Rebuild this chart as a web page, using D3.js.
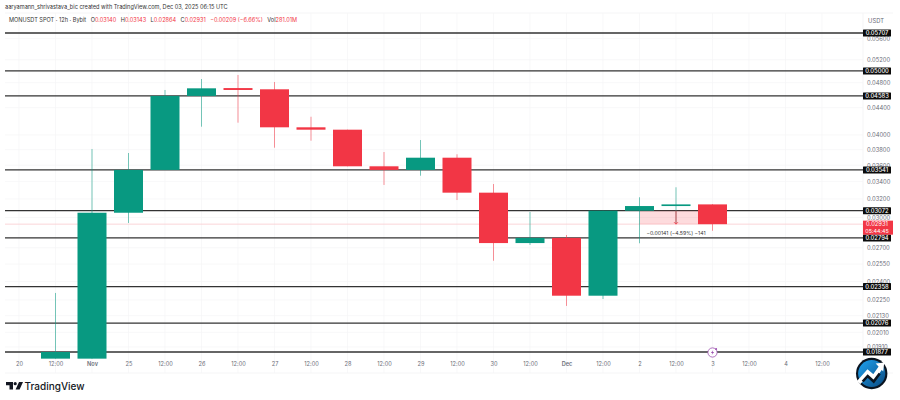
<!DOCTYPE html>
<html><head><meta charset="utf-8">
<script src="https://cdn.jsdelivr.net/npm/d3@7/dist/d3.min.js"></script>
<style>
html,body{margin:0;padding:0;background:#fff;overflow:hidden}
svg{display:block}
text{font-family:Inter,"Noto Sans",sans-serif}
</style></head><body>
<svg id="c" width="900" height="400"></svg>
<script>
const timeLabels=["20","12:00","Nov","25","12:00","26","12:00","27","12:00","28","12:00","29","12:00","30","12:00","Dec","12:00","2","12:00","3","12:00","4","12:00"];
const opens =[.01834,.01834,.03050,.03541,.04583,.04710,.04690,.04108,.04074,.03586,.03541,.03695,.03271,.02744,.02794,.02284,.03072,.03122,.03140];
const highs =[.02306,.03809,.03756,.04679,.04861,.04930,.04811,.04262,.04074,.03769,.03930,.03739,.03371,.03058,.02822,.03072,.03219,.03333,.03143];
const lows  =[.01834,.01834,.02943,.03541,.04117,.04175,.03826,.03921,.03586,.03360,.03470,.03188,.02580,.02726,.02204,.02258,.02742,.02940,.02864];
const closes=[.01877,.03050,.03541,.04583,.04706,.04679,.04108,.04074,.03586,.03541,.03695,.03271,.02744,.02794,.02284,.03072,.03122,.03140,.02931];
const priceTicks=[.056,.052,.048,.044,.04,.038,.036,.034,.032,.03,.027,.0255,.024,.0225,.0213,.0201,.0191];
const levels=[.05707,.05,.04583,.03541,.03072,.02794,.02358,.02076,.01877];
const lastPrice=.02931, measureFrom=.03072, measureAt=18, measureTo=19;
const legendParts=["O0.03140","H0.03143","L0.02864","C0.02931","−0.00209 (−6.66%)"];
const UP="#089981",DOWN="#f23645";

const svg=d3.select("#c");
const x=d3.scaleLinear().domain([0,22]).range([19,822]);
const y=d3.scaleLog().domain([.05707,.01877]).range([33,352]);
const L=5,R=863,T=13,B=358;

const grid=svg.append("g").attr("stroke","#f5f5f6").attr("stroke-width",.7);
grid.selectAll(".v").data(timeLabels).join("line").attr("x1",(d,i)=>x(i)).attr("x2",(d,i)=>x(i)).attr("y1",T).attr("y2",B+15);
grid.selectAll(".h").data(priceTicks).join("line").attr("x1",L).attr("x2",R).attr("y1",d=>y(d)).attr("y2",d=>y(d));
svg.append("line").attr("x1",L).attr("x2",893).attr("y1",T).attr("y2",T).attr("stroke","#f5f5f6");
svg.append("line").attr("x1",L).attr("x2",893).attr("y1",B+15).attr("y2",B+15).attr("stroke","#f5f5f6");
svg.append("line").attr("x1",R).attr("x2",R).attr("y1",T).attr("y2",B+15).attr("stroke","#f5f5f6");

svg.append("line").attr("x1",L).attr("x2",R).attr("y1",y(lastPrice)).attr("y2",y(lastPrice)).attr("stroke","#f9c9ce").attr("stroke-width",.8);

svg.append("g").selectAll("line").data(levels).join("line")
 .attr("x1",L).attr("x2",R).attr("y1",d=>y(d)).attr("y2",d=>y(d))
 .attr("stroke","#333").attr("stroke-width",1.3);

svg.append("rect").attr("x",x(measureAt-1)).attr("width",x(measureTo)-x(measureAt-1))
 .attr("y",y(measureFrom)).attr("height",y(lastPrice)-y(measureFrom)).attr("fill","#f23645").attr("fill-opacity",.18);

const idx=d3.range(opens.length);
const w=29;
const cx=i=>x(i+1);
const col=i=>closes[i]>=opens[i]?UP:DOWN;
const g=svg.append("g");
g.selectAll(".w").data(idx).join("line")
 .attr("x1",cx).attr("x2",cx).attr("y1",i=>y(highs[i])).attr("y2",i=>y(lows[i]))
 .attr("stroke",col).attr("stroke-width",1).attr("stroke-opacity",.55);
g.selectAll(".b").data(idx).join("rect")
 .attr("x",i=>cx(i)-w/2).attr("width",w)
 .attr("y",i=>y(Math.max(opens[i],closes[i])))
 .attr("height",i=>Math.max(1.6,Math.abs(y(opens[i])-y(closes[i]))))
 .attr("fill",col);

const ax=x(measureAt);
svg.append("line").attr("x1",ax).attr("x2",ax).attr("y1",y(measureFrom)).attr("y2",y(lastPrice)).attr("stroke","#f23645").attr("stroke-width",.8);
svg.append("path").attr("d",d3.line()([[ax-2,y(lastPrice)-2],[ax,y(lastPrice)],[ax+2,y(lastPrice)-2]])).attr("fill","none").attr("stroke","#f23645").attr("stroke-width",.8);
svg.append("text").attr("x",ax).attr("y",y(lastPrice)+10.5).attr("text-anchor","middle").attr("font-size",5.2).attr("fill","#333").text("−0.00141 (−4.59%) −141");

const yAxis=d3.axisRight(y).tickValues(priceTicks).tickSize(0).tickPadding(0).tickFormat(d3.format(".5f"));
const ya=svg.append("g").attr("transform","translate(867,0)").call(yAxis);
ya.select(".domain").remove();
ya.selectAll("text").attr("font-size",5.8).attr("fill","#6a6d78").style("font-family","Inter");
const xAxis=d3.axisBottom(x).tickValues(d3.range(timeLabels.length)).tickSize(0).tickPadding(0).tickFormat(i=>timeLabels[i]);
const xa=svg.append("g").attr("transform","translate(0,362)").call(xAxis);
xa.select(".domain").remove();
xa.selectAll("text").attr("font-size",5.6).attr("fill","#6a6d78").style("font-family","Inter")
 .attr("font-weight",(i)=>/[A-Za-z]/.test(timeLabels[i])?600:400);

svg.append("text").attr("x",876).attr("y",23).attr("text-anchor","middle").attr("font-size",5.8).attr("fill","#6a6d78").text("USDT");

const lb=svg.append("g").selectAll("g").data(levels).join("g").attr("transform",d=>`translate(863,${y(d)})`);
lb.append("rect").attr("x",0).attr("y",-3.5).attr("width",28).attr("height",7).attr("fill","#0b0b0b").attr("rx",.5);
lb.append("text").attr("x",14).attr("y",2.1).attr("text-anchor","middle").attr("font-size",5.8).attr("font-weight",500).attr("fill","#fff").text(d=>d3.format(".5f")(d));

const tag=svg.append("g").attr("transform",`translate(863,${y(lastPrice)})`);
tag.append("rect").attr("x",0).attr("y",-3.5).attr("width",30).attr("height",14).attr("fill","#f23645");
tag.append("text").attr("x",14).attr("y",2).attr("text-anchor","middle").attr("font-size",5.8).attr("fill","#fff").text(d3.format(".5f")(lastPrice));
tag.append("text").attr("x",14).attr("y",8.8).attr("text-anchor","middle").attr("font-size",5.4).attr("fill","#fff").text("05:44:45");

svg.append("text").attr("x",5).attr("y",9.3).attr("font-size",5.6).attr("fill","#333").text("aaryamann_shrivastava_bic created with TradingView.com, Dec 03, 2025 06:15 UTC");
const leg=svg.append("text").attr("x",9).attr("y",22.2).attr("font-size",5.6).attr("fill","#333");
leg.append("tspan").text("MONUSDT SPOT · 12h · Bybit");
legendParts.forEach(p=>{
  if(/^[OHLC]/.test(p)){
    leg.append("tspan").attr("dx",4.5).text(p[0]);
    leg.append("tspan").attr("fill",DOWN).text(p.slice(1));
  } else leg.append("tspan").attr("dx",4.5).attr("fill",DOWN).text(p);
});
leg.append("tspan").attr("dx",4.5).text("Vol");
leg.append("tspan").attr("fill",DOWN).text("281.01M");

const ev=svg.append("g").attr("transform",`translate(${x(19)},${y(.01877)+.5})`);
ev.append("circle").attr("r",4.6).attr("fill","#fff").attr("stroke","#9c4fb0").attr("stroke-width",.8);
ev.append("path").attr("d","M.8,-2.6 L-1.6,.4 L-.1,.4 L-.8,2.6 L1.6,-.5 L.1,-.5 Z").attr("fill","#9c4fb0");
ev.append("circle").attr("cx",3.6).attr("cy",-3.4).attr("r",1).attr("fill","#9c4fb0");

const tv=svg.append("g").attr("transform","translate(6,382)").attr("fill","#131722");
tv.append("path").attr("d","M0,0 H7 V7.5 H3.5 V3.2 H0 Z");
tv.append("circle").attr("cx",9.2).attr("cy",1.7).attr("r",1.6);
tv.append("path").attr("d","M13,0 H17 L13.6,7.5 H9.6 Z");
svg.append("text").attr("x",24.5).attr("y",390).attr("font-size",10).attr("font-weight",500).attr("fill","#131722").text("TradingView");

const grad=svg.append("defs").append("linearGradient").attr("id","bg").attr("x1",0).attr("y1",0).attr("x2",1).attr("y2",1);
grad.append("stop").attr("offset",0).attr("stop-color","#1fa2f0");
grad.append("stop").attr("offset",1).attr("stop-color","#0a4a80");
const bd=svg.append("g").attr("transform","translate(871.7,373.5)");
bd.append("circle").attr("r",15.7).attr("fill","#0a1420");
bd.append("circle").attr("r",13.6).attr("fill","url(#bg)");
bd.append("path").attr("d","M-13,9 L-4,-1 L2,4 L9,-6").attr("fill","none").attr("stroke","#fff").attr("stroke-width",4.6);
bd.append("path").attr("d","M-9,8 L-4,2.5 L2,8 L8,0").attr("fill","none").attr("stroke","#0a1420").attr("stroke-width",2.6);
bd.append("path").attr("d","M4,-10 L12.5,-11 L11.5,-2 Z").attr("fill","#fff");
</script>
</body></html>
